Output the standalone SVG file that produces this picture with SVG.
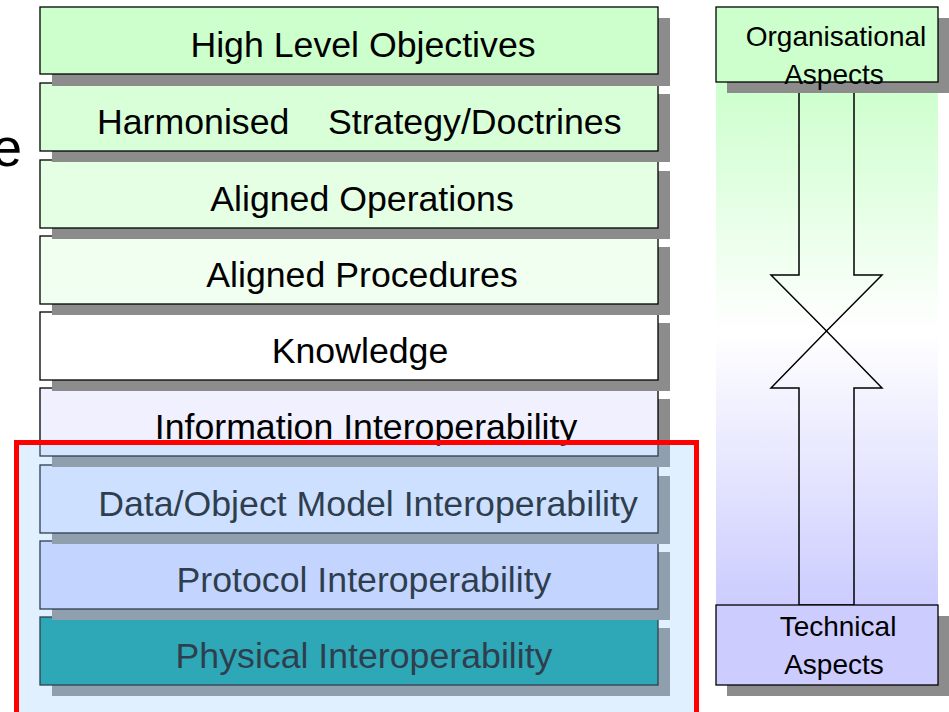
<svg xmlns="http://www.w3.org/2000/svg" width="949" height="712" viewBox="0 0 949 712">
<style>
  .box { stroke: #000; stroke-width: 1.3; }
  .shadow { fill: #8C8C8C; }
  .lbl { font-family: "Liberation Sans", Arial, sans-serif; font-size: 35.7px; fill: #000; text-anchor: middle; }
  .side { font-family: "Liberation Sans", Arial, sans-serif; font-size: 28px; fill: #000; text-anchor: middle; }
  .arrow { fill: none; stroke: #000; stroke-width: 1.5; stroke-linejoin: miter; }
</style>
<defs>
  <linearGradient id="colGrad" gradientUnits="userSpaceOnUse" x1="0" y1="82" x2="0" y2="605">
    <stop offset="0" stop-color="#CCFFCC"/>
    <stop offset="0.48" stop-color="#FFFFFF"/>
    <stop offset="1" stop-color="#CCCCFF"/>
  </linearGradient>
</defs>
<rect width="949" height="712" fill="#FFFFFF"/>

<text x="-8" y="166" font-family="Liberation Sans, Arial, sans-serif" font-size="54" fill="#000">e</text>

<g id="column">
  <rect x="716" y="7" width="222" height="678" fill="url(#colGrad)"/>
</g>

<g id="connectors">
  <polygon class="arrow" points="799,82 799,275 771,275 826.5,331 882,275 854,275 854,82"/>
  <polygon class="arrow" points="799,605 799,388 771,388 826.5,331 882,388 854,388 854,605"/>
</g>

<g id="organisational">
  <rect class="shadow" x="727" y="18" width="222" height="75"/>
  <rect class="box" x="716" y="7" width="222" height="75" fill="#CCFFCC"/>
  <text class="side" x="836" y="46">Organisational</text>
  <text class="side" x="834" y="84">Aspects</text>
</g>

<g id="technical">
  <rect class="shadow" x="727" y="616" width="222" height="80"/>
  <rect class="box" x="716" y="605" width="222" height="80" fill="#CCCCFF"/>
  <text class="side" x="838" y="636">Technical</text>
  <text class="side" x="834" y="674">Aspects</text>
</g>

<g id="physical">
  <rect class="shadow" x="52" y="628" width="618" height="68"/>
  <rect class="box" x="40" y="617" width="618" height="68" fill="#009999"/>
  <text class="lbl" x="364" y="668">Physical Interoperability</text>
</g>
<g id="protocol">
  <rect class="shadow" x="52" y="552" width="618" height="68"/>
  <rect class="box" x="40" y="541" width="618" height="68" fill="#D6D9FF"/>
  <text class="lbl" x="364" y="592">Protocol Interoperability</text>
</g>
<g id="dataobject">
  <rect class="shadow" x="52" y="476" width="618" height="68"/>
  <rect class="box" x="40" y="465" width="618" height="68" fill="#E6E8FF"/>
  <text class="lbl" x="368" y="516">Data/Object Model Interoperability</text>
</g>
<g id="information">
  <rect class="shadow" x="52" y="399" width="618" height="68"/>
  <rect class="box" x="40" y="388" width="618" height="68" fill="#F0F0FF"/>
  <text class="lbl" x="366" y="439">Information Interoperability</text>
</g>
<g id="knowledge">
  <rect class="shadow" x="52" y="323" width="618" height="68"/>
  <rect class="box" x="40" y="312" width="618" height="68" fill="#FFFFFF"/>
  <text class="lbl" x="360" y="363">Knowledge</text>
</g>
<g id="procedures">
  <rect class="shadow" x="52" y="247" width="618" height="68"/>
  <rect class="box" x="40" y="236" width="618" height="68" fill="#F0FFF0"/>
  <text class="lbl" x="362" y="287">Aligned Procedures</text>
</g>
<g id="operations">
  <rect class="shadow" x="52" y="171" width="618" height="68"/>
  <rect class="box" x="40" y="160" width="618" height="68" fill="#E5FFE5"/>
  <text class="lbl" x="362" y="211">Aligned Operations</text>
</g>
<g id="harmonised">
  <rect class="shadow" x="52" y="94" width="618" height="68"/>
  <rect class="box" x="40" y="83" width="618" height="68" fill="#D8FFD8"/>
  <text class="lbl" style="text-anchor:start" y="134"><tspan x="97">Harmonised</tspan><tspan x="328">Strategy/Doctrines</tspan></text>
</g>
<g id="highlevel">
  <rect class="shadow" x="52" y="18" width="618" height="68"/>
  <rect class="box" x="40" y="7" width="618" height="67" fill="#CCFFCC"/>
  <text class="lbl" x="363" y="57">High Level Objectives</text>
</g>

<g id="highlight">
  <rect x="16.5" y="442.5" width="680" height="290" fill="#99CCFF" fill-opacity="0.3" stroke="#FF0000" stroke-width="5"/>
</g>
</svg>
